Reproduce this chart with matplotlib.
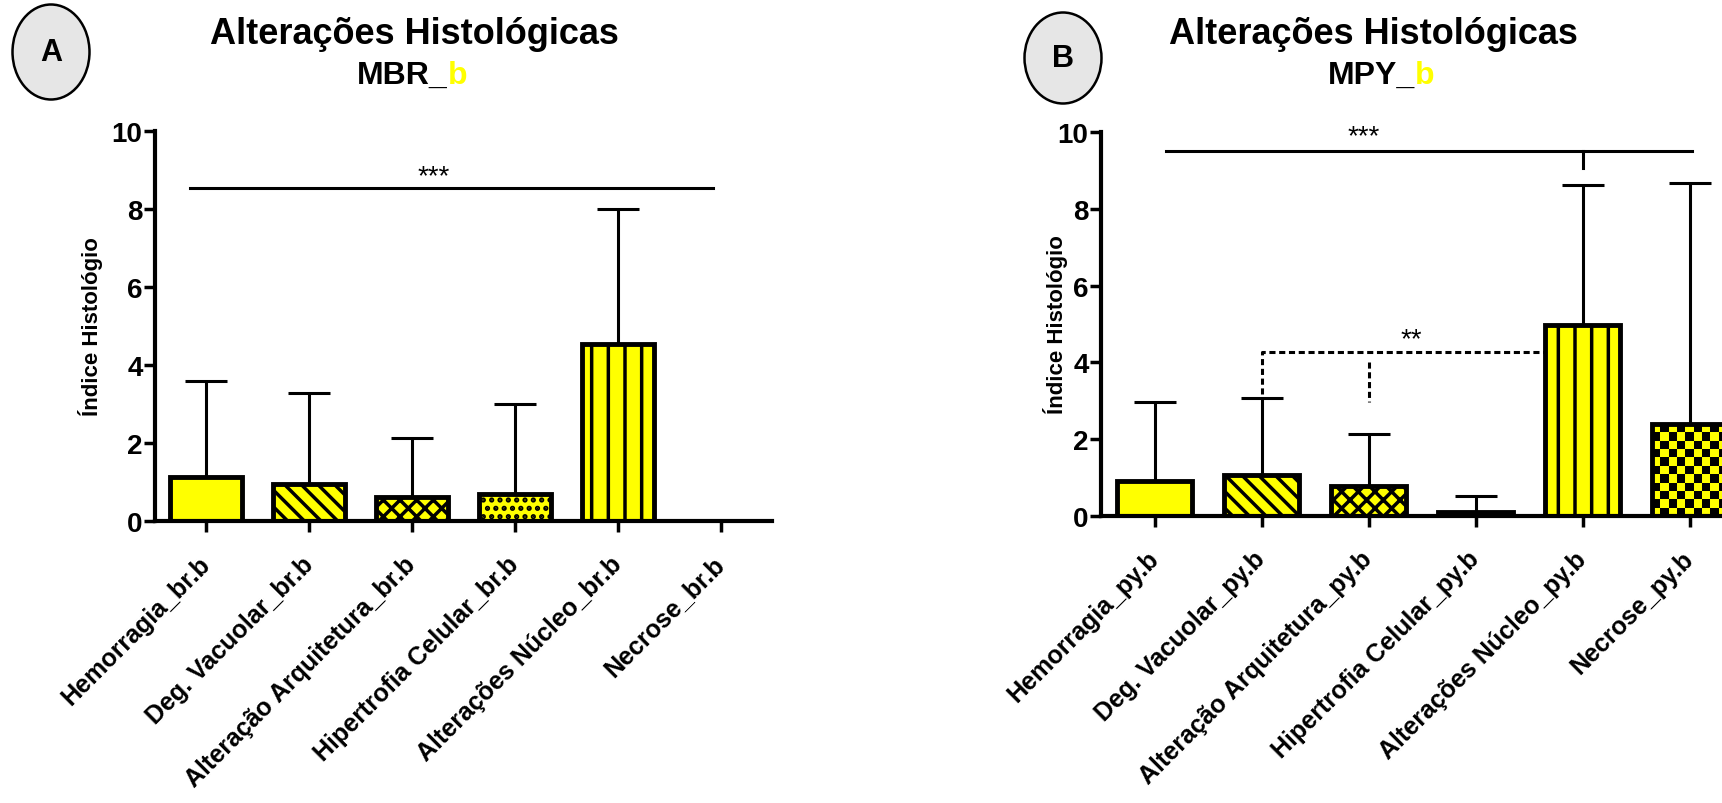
import numpy as np
import matplotlib.pyplot as plt
from matplotlib.patches import Ellipse
from matplotlib.colors import ListedColormap

plt.rcParams['font.family'] = ['Liberation Sans', 'DejaVu Sans']
plt.rcParams['hatch.linewidth'] = 2.5

YELLOW = '#FFFF00'

# painel A (MBR_b)
cats_a = ['Hemorragia_br.b', 'Deg. Vacuolar_br.b', 'Alteração Arquitetura_br.b',
          'Hipertrofia Celular_br.b', 'Alterações Núcleo_br.b', 'Necrose_br.b']
mean_a = [1.12, 0.95, 0.62, 0.69, 4.54, 0.0]
sd_a = [2.48, 2.33, 1.51, 2.31, 3.46, 0.0]

# painel B (MPY_b)
cats_b = ['Hemorragia_py.b', 'Deg. Vacuolar_py.b', 'Alteração Arquitetura_py.b',
          'Hipertrofia Celular_py.b', 'Alterações Núcleo_py.b', 'Necrose_py.b']
mean_b = [0.90, 1.07, 0.78, 0.10, 4.98, 2.39]
sd_b = [2.07, 2.00, 1.35, 0.43, 3.65, 6.28]

hatches = [None, '\\\\', 'xx', '..', '|', 'checker']

W, H = 1722, 804
fig = plt.figure(figsize=(W / 100, H / 100), dpi=100)
ax_a = fig.add_axes([155 / W, 1 - 522 / H, 617 / W, 390 / H])
ax_b = fig.add_axes([1101 / W, 1 - 517 / H, 642 / W, 384 / H])


def checker_fill(ax, bar, cell_px=8):
    x0, y0 = bar.get_x(), bar.get_y()
    w, h = bar.get_width(), bar.get_height()
    p0 = ax.transData.transform((x0, y0))
    p1 = ax.transData.transform((x0 + w, y0 + h))
    nx = max(1, round((p1[0] - p0[0]) / cell_px))
    ny = max(1, round((p1[1] - p0[1]) / cell_px))
    board = np.add.outer(np.arange(ny), np.arange(nx)) % 2
    im = ax.imshow(board, cmap=ListedColormap([YELLOW, 'black']),
                   extent=(x0, x0 + w, y0, y0 + h), aspect='auto',
                   interpolation='nearest', zorder=1.5)
    im.set_clip_path(bar)
    bar.set_facecolor('none')


def draw_panel(ax, cats, means, sds, ylab_x):
    x = np.arange(len(cats))
    ax.set_xlim(-0.5, 5.5)
    ax.set_ylim(0, 10)
    ax.errorbar(x, means, yerr=[np.zeros(len(x)), sds], fmt='none',
                ecolor='black', elinewidth=2.2, capsize=15, capthick=2.2,
                zorder=1)
    bars = ax.bar(x, means, width=0.7, color=YELLOW, edgecolor='black',
                  linewidth=3.5, zorder=2)
    for bar, h, m in zip(bars, hatches, means):
        if h == 'checker':
            if m > 0:
                checker_fill(ax, bar)
        elif h:
            bar.set_hatch(h)
    ax.set_xlim(-0.5, 5.5)
    ax.set_ylim(0, 10)
    ax.set_yticks(range(0, 11, 2))
    ax.set_xticks(x)
    ax.set_xticklabels(cats, rotation=45, ha='right', va='center',
                       rotation_mode='anchor', fontsize=18, fontweight='bold')
    for lbl in ax.get_yticklabels():
        lbl.set_fontweight('bold')
    for s in ['top', 'right']:
        ax.spines[s].set_visible(False)
    for s in ['left', 'bottom']:
        ax.spines[s].set_linewidth(3)
    ax.tick_params(axis='y', width=2.5, length=8, labelsize=20, pad=1)
    ax.tick_params(axis='x', width=2.5, length=8, pad=20)
    ax.set_ylabel('Índice Histológio', fontsize=16, fontweight='bold')
    ax.yaxis.set_label_coords(ylab_x, 0.5)


draw_panel(ax_a, cats_a, mean_a, sd_a, -0.084)
draw_panel(ax_b, cats_b, mean_b, sd_b, -0.052)

# significancia A
ax_a.plot([-0.16, 4.93], [8.54, 8.54], color='black', lw=2.2)
ax_a.text(2.21, 8.85, '***', ha='center', va='center', fontsize=20)

# significancia B
ax_b.plot([0.11, 5.02], [9.5, 9.5], color='black', lw=2.2)
ax_b.plot([4, 4], [9.5, 9.05], color='black', lw=2.2)
ax_b.text(1.95, 9.88, '***', ha='center', va='center', fontsize=20)
ax_b.plot([1.0, 1.0, 3.65], [3.18, 4.27, 4.27], color='black', lw=2.2,
          ls=(0, (2, 1.2)))
ax_b.plot([2.0, 2.0], [4.0, 2.97], color='black', lw=2.2, ls=(0, (2, 1.2)))
ax_b.text(2.4, 4.6, '**', ha='center', va='center', fontsize=20)

# titulos
renderer = fig.canvas.get_renderer()
for cx, sx, title, sub in [(414, 412, 'Alterações Histológicas', 'MBR_'),
                           (1373, 1381, 'Alterações Histológicas', 'MPY_')]:
    fig.text(cx / W, 1 - 35 / H, title, ha='center', va='center',
             fontsize=26, fontweight='bold')
    t1 = fig.text(0, 1 - 76 / H, sub, ha='left', va='center',
                  fontsize=23, fontweight='bold')
    t2 = fig.text(0, 1 - 76 / H, 'b', ha='left', va='center',
                  fontsize=23, fontweight='bold', color=YELLOW)
    w1 = t1.get_window_extent(renderer).width
    w2 = t2.get_window_extent(renderer).width
    left = sx - (w1 + w2) / 2
    t1.set_x(left / W)
    t2.set_x((left + w1) / W)

# circulos A / B
for cx, cy, eh, letter in [(51, 53, 95, 'A'), (1063, 59, 91, 'B')]:
    e = Ellipse((cx / W, 1 - cy / H), 77 / W, eh / H, transform=fig.transFigure,
                facecolor='#E6E6E6', edgecolor='black', lw=1.8)
    fig.add_artist(e)
    fig.text(cx / W, 1 - cy / H, letter, ha='center', va='center',
             fontsize=22, fontweight='bold')

fig.savefig('out.png', dpi=100, facecolor='white')
